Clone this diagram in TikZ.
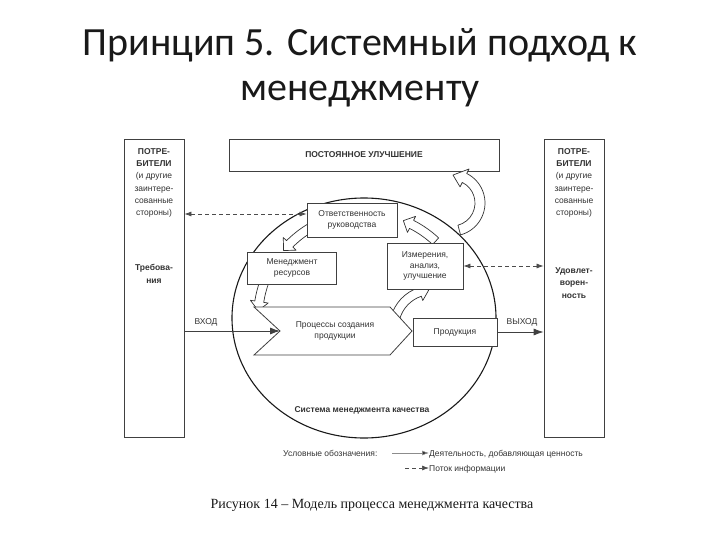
\documentclass[tikz,border=0pt]{standalone}
\usepackage{fontspec}
\setmainfont{Liberation Sans}
\newfontfamily\titlefont{Carlito}
\newfontfamily\capfont{Liberation Serif}
\usetikzlibrary{arrows.meta,shapes.geometric}
\tikzset{
  box/.style={draw=black!75,line width=0.8pt,fill=white},
  txt/.style={font=\fontsize{8.5}{10.2}\selectfont,text=black!80,align=center,inner sep=0pt},
  btxt/.style={txt,font=\fontsize{8.5}{10.2}\selectfont\bfseries},
  hollow/.style={draw=black!80,fill=white,line width=0.7pt,line join=round},
  info/.style={draw=black!70,line width=0.7pt,dash pattern=on 4pt off 3pt,{Latex[length=7pt,width=5pt]}-{Latex[length=7pt,width=5pt]}},
  flow/.style={draw=black!75,line width=0.8pt,-{Latex[length=10pt,width=7pt]}},
}
\newcommand{\hollowarc}[8]{%
  \pgfmathsetmacro{\hd}{ifthenelse(#5>#4,1,-1)*#8/#3*57.2958}%
  \pgfmathsetmacro{\ee}{#5-\hd}%
  \pgfmathsetmacro{\ro}{#3+#6}%
  \pgfmathsetmacro{\ri}{#3-#6}%
  \pgfmathsetmacro{\rho}{#3+#7}%
  \pgfmathsetmacro{\rhi}{#3-#7}%
  \begin{scope}[shift={(#1,#2)}]
    \filldraw[hollow] (#4:\ro) arc[start angle=#4,end angle=\ee,radius=\ro]
      -- (\ee:\rho) -- (#5:#3) -- (\ee:\rhi) -- (\ee:\ri)
      arc[start angle=\ee,end angle=#4,radius=\ri] -- cycle;
  \end{scope}}
\begin{document}
\begin{tikzpicture}[x=1pt,y=-1pt]
\useasboundingbox (0,0) rectangle (720,540);
% title
\node[font=\titlefont\fontsize{40}{48}\selectfont,text=black!90] (t1) at (360,45) {Принцип 5. Системный подход к};
\node[font=\titlefont\fontsize{40}{48}\selectfont,text=black!90] (t2) at (360,94) {менеджменту};
% side boxes
\node[box,minimum width=60,minimum height=298] (lb) at (154,288) {};
\node[box,minimum width=60,minimum height=298] (rb) at (574,288) {};
\node[txt,font=\fontsize{8.5}{12.2}\selectfont] (lt) at (154,183) {\textbf{ПОТРЕ-}\\\textbf{БИТЕЛИ}\\(и другие\\заинтере-\\сованные\\стороны)};
\node[txt,font=\fontsize{8.5}{12.2}\selectfont] (rt) at (574,183) {\textbf{ПОТРЕ-}\\\textbf{БИТЕЛИ}\\(и другие\\заинтере-\\сованные\\стороны)};
\node[btxt,font=\fontsize{8.5}{12.6}\selectfont\bfseries] (req) at (154,274) {Требова-\\ния};
\node[btxt,font=\fontsize{8.5}{12.6}\selectfont\bfseries] (sat) at (574,283) {Удовлет-\\ворен-\\ность};
% top box
\node[box,minimum width=270,minimum height=32,btxt] (imp) at (364,155) {ПОСТОЯННОЕ УЛУЧШЕНИЕ};
% big arrow to top box
\hollowarc{452}{203}{28}{75}{-88}{5}{10}{12}
% system ellipse
\node[ellipse,draw=black!90,line width=1.1pt,minimum width=264,minimum height=240,inner sep=0pt] (sys) at (364,318) {};
% inner hollow arrows
\hollowarc{364}{318}{105}{-113}{-140}{4.5}{9}{9}
\hollowarc{364}{318}{106}{-160}{-176}{4.5}{9}{9}
\hollowarc{432}{328}{38}{-165}{-95}{4.5}{9}{9}
\hollowarc{364}{318}{105}{-47}{-68}{4.5}{9}{9}
% inner boxes
\node[box,txt,minimum width=90,minimum height=34] (resp) at (352,220) {Ответственность\\руководства};
\node[box,txt,minimum width=89,minimum height=32] (res) at (292,268) {Менеджмент\\ресурсов};
\node[box,txt,minimum width=76,minimum height=46] (meas) at (425,266) {Измерения,\\анализ,\\улучшение};
\coordinate (pTL) at (254,307);
\coordinate (notch) at (280,331);
\coordinate (pBL) at (254,355);
\coordinate (pBR) at (390,355);
\coordinate (ptip) at (412,331);
\coordinate (pTR) at (390,307);
\draw[box] (pTL) -- (notch) -- (pBL) -- (pBR) -- (ptip) -- (pTR) -- cycle;
\node[txt] (proc) at (335,331) {Процессы создания\\продукции};
\node[box,txt,minimum width=84,minimum height=28] (prod) at (455,332) {Продукция};
\node[btxt] (sysl) at (362,410) {Система менеджмента качества};
% information flows
\coordinate (dl) at ([yshift=6pt]resp.west);
\draw[info] (lb.east |- dl) -- (dl);
\draw[info] (meas.east) -- (rb.west |- meas.east);
% input / output
\draw[flow] (lb.east |- notch) -- (notch);
\node[txt] (in) at (206,322) {ВХОД};
\draw[flow] (prod.east) -- (rb.west |- prod.east);
\node[txt] (out) at (522,322) {ВЫХОД};
% legend
\node[txt,anchor=base west] (leg) at (283,456) {Условные обозначения:};
\node[txt,anchor=base west] (l1) at (429,456) {Деятельность, добавляющая ценность};
\node[txt,anchor=base west] (l2) at (429,471) {Поток информации};
\coordinate (a1) at (392,453);
\coordinate (a2) at (405,468);
\draw[draw=black!45,line width=0.6pt,-{Latex[length=7pt,width=5pt,fill=black!80]}] (a1) -- (l1.west |- a1);
\draw[draw=black!70,line width=0.7pt,dash pattern=on 4pt off 3pt,-{Latex[length=7pt,width=5pt]}] (a2) -- (l2.west |- a2);
% caption
\node[font=\capfont\fontsize{14}{16}\selectfont,text=black!90] (cap) at (372,505) {Рисунок 14 – Модель процесса менеджмента качества};
\end{tikzpicture}
\end{document}
